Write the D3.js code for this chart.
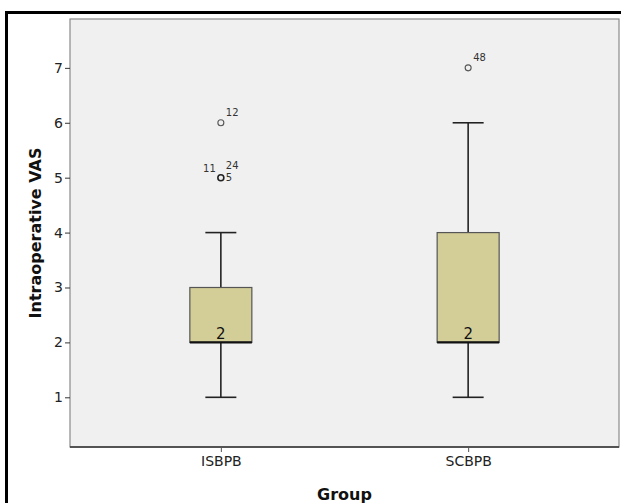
<!DOCTYPE html>
<html>
<head>
<meta charset="utf-8">
<script src="https://cdn.jsdelivr.net/npm/d3@7"></script>
<style>
  body { margin: 0; background: #fff; }
  svg { display: block; font-family: "DejaVu Sans", sans-serif; }
</style>
</head>
<body>
<div id="chart"></div>
<script>
// box plot summaries
const groups = ["ISBPB", "SCBPB"];
const whiskerLow = [1, 1];
const q1 = [2, 2];
const median = [2, 2];
const q3 = [3, 4];
const whiskerHigh = [4, 6];
const outliers = [
  {group: "ISBPB", value: 6, ids: ["12"]},
  {group: "ISBPB", value: 5, ids: ["11", "24", "5"]},
  {group: "SCBPB", value: 7, ids: ["48"]}
];
const yTicks = [1, 2, 3, 4, 5, 6, 7];

const width = 621, height = 503;
const margin = {top: 19, right: 2, bottom: 56, left: 70};

const svg = d3.select('#chart').append('svg')
  .attr('width', width)
  .attr('height', height);

// outer frame (runs off the right/bottom edge)
svg.append('rect')
  .attr('x', 6.5).attr('y', 12.5)
  .attr('width', 700).attr('height', 600)
  .attr('fill', 'none')
  .attr('stroke', '#000')
  .attr('stroke-width', 3);

const plotW = width - margin.left - margin.right,
  plotH = height - margin.top - margin.bottom;

const g = svg.append('g')
  .attr('transform', `translate(${margin.left}, ${margin.top})`);

const xScale = d3.scalePoint()
  .domain(groups)
  .range([0, plotW])
  .padding(0.61);

const yScale = d3.scaleLinear()
  .domain([0.095, 7.89])
  .range([plotH, 0]);

// plot background
g.append('rect')
  .attr('width', plotW).attr('height', plotH)
  .attr('fill', '#f0f0f0')
  .attr('stroke', '#8a8a8a')
  .attr('stroke-width', 1.2);

g.append('line')
  .attr('x1', 0).attr('x2', plotW)
  .attr('y1', plotH).attr('y2', plotH)
  .attr('stroke', '#333').attr('stroke-width', 1.4);

// axes
const yAxis = d3.axisLeft(yScale)
  .tickValues(yTicks)
  .tickFormat(d3.format('d'))
  .tickSizeOuter(0)
  .tickSize(5)
  .tickPadding(2);

const yAxisGroup = g.append('g')
  .attr('class', 'axis y-axis')
  .call(yAxis);
yAxisGroup.select('.domain').remove();
yAxisGroup.selectAll('line').attr('stroke', '#333');
yAxisGroup.selectAll('text')
  .attr('fill', '#222')
  .style('font-size', '14px')
  .style('font-family', '"DejaVu Sans", sans-serif');

const xAxis = d3.axisBottom(xScale)
  .tickSizeOuter(0)
  .tickSize(5)
  .tickPadding(4);

const xAxisGroup = g.append('g')
  .attr('class', 'axis x-axis')
  .attr('transform', `translate(0, ${plotH})`)
  .call(xAxis);
xAxisGroup.select('.domain').remove();
xAxisGroup.selectAll('line').attr('stroke', '#555');
xAxisGroup.selectAll('text')
  .attr('fill', '#222')
  .style('font-size', '14px')
  .style('font-family', '"DejaVu Sans", sans-serif');

// titles
svg.append('text')
  .attr('x', margin.left + plotW / 2)
  .attr('y', 500)
  .attr('text-anchor', 'middle')
  .style('font-size', '16px')
  .style('font-weight', 'bold')
  .attr('fill', '#111')
  .text('Group');

svg.append('text')
  .attr('transform', `translate(41, ${margin.top + plotH / 2}) rotate(-90)`)
  .attr('text-anchor', 'middle')
  .style('font-size', '16px')
  .style('font-weight', 'bold')
  .attr('fill', '#111')
  .text('Intraoperative VAS');

// boxes
const boxW = 62, capW = 31;
const boxes = groups.map((name, i) => ({
  name, lo: whiskerLow[i], q1: q1[i], med: median[i], q3: q3[i], hi: whiskerHigh[i]
}));

const box = g.selectAll('.box')
  .data(boxes)
  .enter()
  .append('g')
  .attr('class', 'box')
  .attr('transform', d => `translate(${xScale(d.name)}, 0)`);

box.append('line')
  .attr('y1', d => yScale(d.lo)).attr('y2', d => yScale(d.hi))
  .attr('stroke', '#222').attr('stroke-width', 1.6);

box.selectAll('.cap')
  .data(d => [d.lo, d.hi])
  .enter()
  .append('line')
  .attr('class', 'cap')
  .attr('x1', -capW / 2).attr('x2', capW / 2)
  .attr('y1', v => yScale(v)).attr('y2', v => yScale(v))
  .attr('stroke', '#222').attr('stroke-width', 1.6);

box.append('rect')
  .attr('x', -boxW / 2)
  .attr('width', boxW)
  .attr('y', d => yScale(d.q3))
  .attr('height', d => yScale(d.q1) - yScale(d.q3))
  .attr('fill', '#d3ce98')
  .attr('stroke', '#555')
  .attr('stroke-width', 1.2);

box.append('line')
  .attr('x1', -boxW / 2).attr('x2', boxW / 2)
  .attr('y1', d => yScale(d.med)).attr('y2', d => yScale(d.med))
  .attr('stroke', '#111').attr('stroke-width', 2.2);

box.append('text')
  .attr('y', d => yScale(d.med) - 3)
  .attr('text-anchor', 'middle')
  .style('font-size', '15px')
  .attr('fill', '#111')
  .text(d => d.med);

// outliers
const out = g.selectAll('.outlier')
  .data(outliers)
  .enter()
  .append('g')
  .attr('class', 'outlier')
  .attr('transform', d => `translate(${xScale(d.group)}, ${yScale(d.value)})`);

out.append('circle')
  .attr('r', 3)
  .attr('fill', 'none')
  .attr('stroke', d => d.ids.length > 1 ? '#222' : '#555')
  .attr('stroke-width', d => d.ids.length > 1 ? 1.6 : 1.1);

// label offsets around each point, SPSS style
const labelPos = [[5, -7, 'start'], [-5, -6, 'end'], [5, 3, 'start']];
out.each(function(d) {
  const sel = d3.select(this);
  d.ids.forEach((id, k) => {
    let pos;
    if (d.ids.length === 1) pos = labelPos[0];
    else if (k === 0) pos = labelPos[1];
    else if (k === 1) pos = [5, -9, 'start'];
    else pos = labelPos[2];
    sel.append('text')
      .attr('x', pos[0])
      .attr('y', pos[1])
      .attr('text-anchor', pos[2])
      .style('font-size', '10px')
      .attr('fill', '#333')
      .text(id);
  });
});
</script>
</body>
</html>
